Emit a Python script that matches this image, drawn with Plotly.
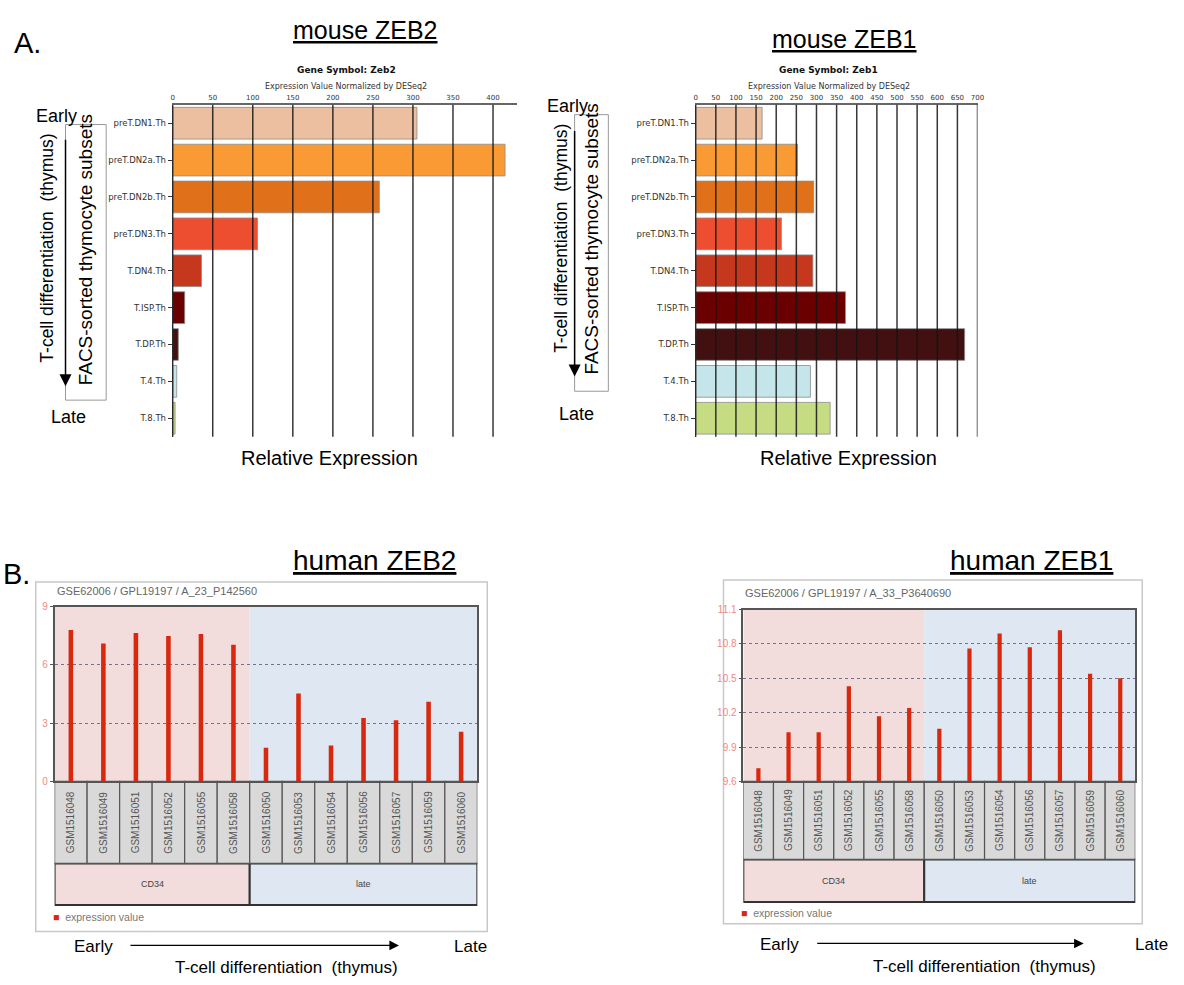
import plotly.graph_objects as go

W, H = 1184, 985

# ---------------- data ----------------
mouse_subsets = ["preT.DN1.Th", "preT.DN2a.Th", "preT.DN2b.Th", "preT.DN3.Th",
                 "T.DN4.Th", "T.ISP.Th", "T.DP.Th", "T.4.Th", "T.8.Th"]
mouse_colors = ["#ebbf9f", "#f99a35", "#e07019", "#ee4e30", "#c6381e",
                "#6a0000", "#421010", "#c4e6ea", "#c6dc82"]
zeb2_mouse = [305, 415, 258, 106, 36, 15, 7, 5, 3]
zeb1_mouse = [165, 253, 293, 213, 291, 372, 668, 285, 334]
zeb2_ticks = [0, 50, 100, 150, 200, 250, 300, 350, 400]
zeb1_ticks = [0, 50, 100, 150, 200, 250, 300, 350, 400, 450, 500, 550, 600, 650, 700]

samples = ["GSM1516048", "GSM1516049", "GSM1516051", "GSM1516052", "GSM1516055",
           "GSM1516058", "GSM1516050", "GSM1516053", "GSM1516054", "GSM1516056",
           "GSM1516057", "GSM1516059", "GSM1516060"]
groups = ["CD34", "late"]
group_sizes = [6, 7]
group_colors = ["#f2dcdc", "#dfe8f2"]
zeb2_human = [7.80, 7.10, 7.64, 7.49, 7.59, 7.03, 1.74, 4.52, 1.85, 3.27, 3.15, 4.10, 2.56]
zeb1_human = [9.715, 10.03, 10.03, 10.43, 10.17, 10.24, 10.06, 10.76, 10.89, 10.77, 10.92, 10.54, 10.50]
zeb2_yticks = [0, 3, 6, 9]
zeb1_yticks = [9.6, 9.9, 10.2, 10.5, 10.8, 11.1]
zeb1_yticklabels = ["9.6", "9.9", "10.2", "10.5", "10.8", "11.1"]


def px(x):
    return x / W


def py(y):
    return 1 - y / H


SANS = "Liberation Sans, Arial, sans-serif"
DJ = "DejaVu Sans, sans-serif"

fig = go.Figure()

# ---------------- mouse bar charts ----------------
for vals, xa, ya in [(zeb2_mouse, "x", "y"), (zeb1_mouse, "x2", "y2")]:
    fig.add_trace(go.Bar(
        x=vals, y=mouse_subsets, orientation="h",
        marker=dict(color=mouse_colors, line=dict(color="rgba(140,140,140,0.8)", width=1)),
        xaxis=xa, yaxis=ya, showlegend=False, hoverinfo="x+y"))

# ---------------- human stick charts ----------------
for vals, xa, ya in [(zeb2_human, "x3", "y3"), (zeb1_human, "x4", "y4")]:
    fig.add_trace(go.Bar(
        x=samples, y=vals, width=0.14,
        marker=dict(color="#d8280e", line=dict(width=0)),
        xaxis=xa, yaxis=ya, showlegend=False, hoverinfo="x+y"))

mouse_x_common = dict(side="top", showgrid=False, zeroline=False, showline=True,
                      linecolor="#666", linewidth=2, ticks="",
                      tickfont=dict(family=DJ, size=7, color="#333"))
mouse_y_common = dict(type="category", categoryorder="array", categoryarray=mouse_subsets,
                      autorange="reversed", showgrid=False, showline=True, linecolor="#333",
                      linewidth=1, ticks="outside", ticklen=4, tickcolor="#333",
                      tickfont=dict(family=DJ, size=8.5, color="#333"))

human_x_common = dict(type="category", categoryorder="array", categoryarray=samples,
                      range=[-0.5, len(samples) - 0.5], showticklabels=False, ticks="",
                      showgrid=False, zeroline=False, showline=True, mirror=True,
                      linecolor="#555", linewidth=1.5)
human_y_common = dict(showgrid=True, gridcolor="#6f7390", griddash="dot", gridwidth=1,
                      zeroline=False, showline=True, mirror=True, linecolor="#555",
                      linewidth=1.5, ticks="outside", ticklen=3, tickcolor="#555",
                      tickfont=dict(family=SANS, size=10, color="#f08a80"))

fig.update_layout(
    width=W, height=H, margin=dict(l=0, r=0, t=0, b=0),
    paper_bgcolor="white", plot_bgcolor="white", bargap=0.14,
    xaxis=dict(domain=[px(172), px(519)], range=[0, 430], tickvals=zeb2_ticks,
               anchor="y", **mouse_x_common),
    yaxis=dict(domain=[py(436), py(100)], anchor="x", **mouse_y_common),
    xaxis2=dict(domain=[px(699), px(983)], range=[0, 700], tickvals=zeb1_ticks,
                anchor="y2", **mouse_x_common),
    yaxis2=dict(domain=[py(436), py(100)], anchor="x2", **mouse_y_common),
    xaxis3=dict(domain=[px(53), px(479)], anchor="y3", **human_x_common),
    yaxis3=dict(domain=[py(785), py(608)], anchor="x3", range=[0, 9],
                tickvals=zeb2_yticks, **human_y_common),
    xaxis4=dict(domain=[px(747), px(1142)], anchor="y4", **human_x_common),
    yaxis4=dict(domain=[py(785), py(611)], anchor="x4", range=[9.6, 11.1],
                tickvals=zeb1_yticks, ticktext=zeb1_yticklabels, **human_y_common),
)

shapes = []
annotations = []

# gridlines drawn over the mouse bars
for ticks, xa, ya in [(zeb2_ticks, "x", "y"), (zeb1_ticks, "x2", "y2")]:
    for t in ticks:
        shapes.append(dict(type="line", xref=xa, yref=f"{ya} domain", x0=t, x1=t, y0=0, y1=1,
                           line=dict(color="rgba(20,20,20,0.85)", width=1.5), layer="above"))

# human panels: outer box, backgrounds, sample boxes, group boxes
human_panels = [
    dict(xa="x3", ya="y3", box=(34, 583, 489, 937), sb=(785, 868), gb=(868, 910),
         leg=(53, 922), title="GSE62006 / GPL19197 / A_23_P142560", ttl=(53, 592)),
    dict(xa="x4", ya="y4", box=(727, 581, 1149, 929), sb=(785, 864), gb=(864, 907),
         leg=(747, 918), title="GSE62006 / GPL19197 / A_33_P3640690", ttl=(747, 594)),
]
for p in human_panels:
    x0, y0, x1, y1 = p["box"]
    shapes.append(dict(type="rect", xref="paper", yref="paper", x0=px(x0), x1=px(x1),
                       y0=py(y1), y1=py(y0), line=dict(color="#c8c8c8", width=1.5),
                       fillcolor="rgba(0,0,0,0)", layer="below"))
    start = -0.5
    for g, n, c in zip(groups, group_sizes, group_colors):
        end = start + n
        shapes.append(dict(type="rect", xref=p["xa"], yref=f"{p['ya']} domain",
                           x0=start, x1=end, y0=0, y1=1, fillcolor=c,
                           line=dict(width=0), layer="below"))
        shapes.append(dict(type="rect", xref=p["xa"], yref="paper", x0=start, x1=end,
                           y0=py(p["gb"][1]), y1=py(p["gb"][0]), fillcolor=c,
                           line=dict(color="#333", width=2), layer="below"))
        annotations.append(dict(xref=p["xa"], yref="paper", x=(start + end) / 2,
                                y=py((p["gb"][0] + p["gb"][1]) / 2), text=g, showarrow=False,
                                xanchor="center", yanchor="middle",
                                font=dict(family=SANS, size=9, color="#444")))
        start = end
    for i, s in enumerate(samples):
        shapes.append(dict(type="rect", xref=p["xa"], yref="paper", x0=i - 0.5, x1=i + 0.5,
                           y0=py(p["sb"][1]), y1=py(p["sb"][0]), fillcolor="#d9d9d9",
                           line=dict(color="#555", width=1.2), layer="below"))
        annotations.append(dict(xref=p["xa"], yref="paper", x=s,
                                y=py((p["sb"][0] + p["sb"][1]) / 2), text=s, textangle=-90,
                                xanchor="center", yanchor="middle",
                                showarrow=False, font=dict(family=SANS, size=10, color="#555")))
    annotations.append(dict(xref="paper", yref="paper", x=px(p["ttl"][0]), y=py(p["ttl"][1]),
                            xanchor="left", yanchor="middle", text=p["title"], showarrow=False,
                            font=dict(family=SANS, size=11, color="#666")))
    annotations.append(dict(xref="paper", yref="paper", x=px(p["leg"][0] - 4), y=py(p["leg"][1]),
                            xanchor="left", yanchor="middle",
                            text="<span style='color:#d8280e'>■</span>  expression value",
                            showarrow=False, font=dict(family=SANS, size=10.5, color="#777")))

# ---------------- texts ----------------
def txt(x, y, t, size, color="black", family=SANS, angle=0, xanchor="center"):
    annotations.append(dict(xref="paper", yref="paper", x=px(x), y=py(y), text=t,
                            textangle=angle, showarrow=False, xanchor=xanchor,
                            yanchor="middle",
                            font=dict(family=family, size=size, color=color)))

txt(26, 37, "A.", 29)
txt(15, 575, "B.", 29)
txt(366, 24, "<u>mouse ZEB2</u>", 25)
txt(849, 33, "<u>mouse ZEB1</u>", 25)
txt(375, 561, "<u>human ZEB2</u>", 28)
txt(1037, 561, "<u>human ZEB1</u>", 28)

txt(347, 65, "<b>Gene Symbol: Zeb2</b>", 9, "#111", DJ)
txt(347, 81, "Expression Value Normalized by DESeq2", 8, "#333", DJ)
txt(833, 65, "<b>Gene Symbol: Zeb1</b>", 9, "#111", DJ)
txt(833, 81, "Expression Value Normalized by DESeq2", 8, "#333", DJ)

txt(330, 458, "Relative Expression", 20)
txt(853, 458, "Relative Expression", 20)

# left side (mouse)
for ex, ey, lx, ly, tx, ty, fx, fy, ax, ay0, ay1, bx0, bx1, by0, by1 in [
    (55, 111, 67, 416, 45, 245, 85, 247, 64, 137, 385, 64, 105, 120, 399),
    (570, 101, 579, 413, 563, 235, 594, 236, 577, 128, 375, 577, 611, 110, 390),
]:
    shapes.append(dict(type="rect", xref="paper", yref="paper", x0=px(bx0), x1=px(bx1),
                       y0=py(by1), y1=py(by0), line=dict(color="#999", width=1)))
    txt(ex, ey, "Early", 18)
    txt(lx, ly, "Late", 18)
    txt(tx, ty, "T-cell differentiation  (thymus)", 17.5, angle=-90)
    txt(fx, fy, "FACS-sorted thymocyte subsets", 19, angle=-90)
    annotations.append(dict(xref="paper", yref="paper", x=px(ax), y=py(ay1), ax=0,
                            ay=-(ay1 - ay0), text="", showarrow=True, arrowhead=2,
                            arrowsize=1.6, arrowwidth=1.5, arrowcolor="black"))

# bottom (human)
for ex, lx, yy, a0, a1, tx, ty in [
    (92, 472, 952, 130, 400, 287, 973),
    (783, 1158, 950, 822, 1090, 990, 972),
]:
    txt(ex, yy, "Early", 17)
    txt(lx, yy, "Late", 17)
    txt(tx, ty, "T-cell differentiation  (thymus)", 17)
    annotations.append(dict(xref="paper", yref="paper", x=px(a1), y=py(yy - 1), ax=-(a1 - a0),
                            ay=0, text="", showarrow=True, arrowhead=2, arrowsize=1.6,
                            arrowwidth=1.2, arrowcolor="black"))

fig.update_layout(shapes=shapes, annotations=annotations)

fig.write_html("out.html", config={"displayModeBar": False},
               post_script="document.body.style.margin='0';")
